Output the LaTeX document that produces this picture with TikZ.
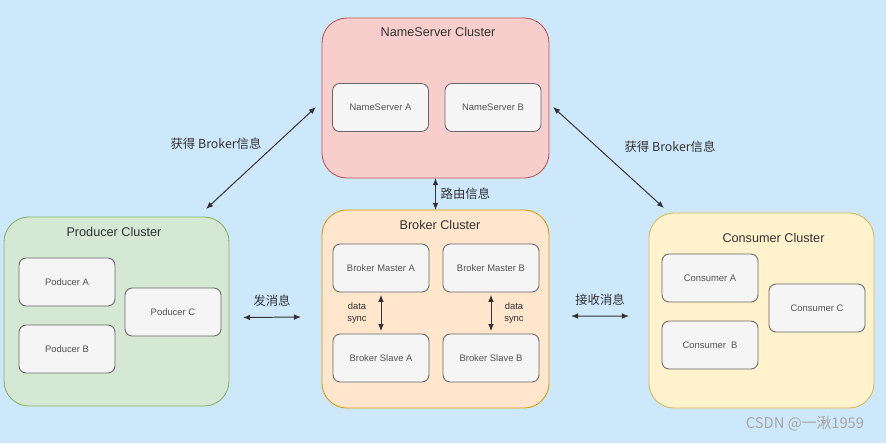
\documentclass[tikz,border=0pt]{standalone}
\usepackage{fontspec}
\setmainfont{Liberation Sans}
\newfontfamily\cjk{Noto Sans CJK SC}
\usetikzlibrary{positioning, arrows.meta}
\tikzset{>={Latex[length=5pt,width=4pt]}}
\usepackage{xcolor}

\definecolor{bgblue}{RGB}{206,232,251}
\definecolor{nsfill}{RGB}{248,206,204}\definecolor{nsline}{RGB}{184,84,80}
\definecolor{prfill}{RGB}{213,232,212}\definecolor{prline}{RGB}{130,179,102}
\definecolor{brfill}{RGB}{255,230,204}\definecolor{brline}{RGB}{215,155,0}
\definecolor{cofill}{RGB}{255,242,204}\definecolor{coline}{RGB}{214,182,86}
\definecolor{boxfill}{RGB}{245,245,245}\definecolor{boxline}{RGB}{102,102,102}
\definecolor{txt}{RGB}{51,51,51}

\tikzset{
    cluster/.style={draw,rounded corners=0.625cm,inner sep=0pt,outer sep=0pt,line width=0.6pt},
    member/.style={draw=boxline,fill=boxfill,rounded corners=0.18cm,minimum width=2.4cm,
        minimum height=1.2cm,inner sep=0pt,outer sep=0pt,line width=0.6pt,
        text=txt!85,font=\fontsize{6.7}{8}\selectfont},
    title/.style={text=txt,font=\fontsize{9}{11}\selectfont},
    link/.style={<->,draw=txt,line width=0.7pt},
    linklabel/.style={text=txt,font=\cjk\fontsize{8.8}{11}\selectfont}
}

\begin{document}
\begin{tikzpicture}[x=0.025cm,y=-0.025cm]

    % canvas
    \fill[bgblue] (0,0) rectangle (886,443);
    \useasboundingbox (0,0) rectangle (886,443);

    % clusters
    \node[cluster,draw=nsline,fill=nsfill,minimum width=5.675cm,minimum height=4cm] (ns) at (435.5,98) {};
    \node[cluster,draw=prline,fill=prfill,minimum width=5.625cm,minimum height=4.725cm] (prod) at (116.5,311.5) {};
    \node[cluster,draw=brline,fill=brfill,minimum width=5.675cm,minimum height=4.95cm] (brk) at (435.5,309) {};
    \node[cluster,draw=coline,fill=cofill,minimum width=5.625cm,minimum height=4.875cm] (cons) at (761.5,310.5) {};

    \node[title] (nstitle) at (438,32) {NameServer Cluster};
    \node[title] (prodtitle) at (114,232) {Producer Cluster};
    \node[title] (brktitle) at (440,225) {Broker Cluster};
    \node[title] (constitle) at (773.5,238) {Consumer Cluster};

    % members
    \node[member] (nsa) at (380.5,107.5) {NameServer A};
    \node[member] (nsb) at (493,107.5) {NameServer B};

    \node[member] (pa) at (67,282) {Poducer A};
    \node[member] (pb) at (67,349) {Poducer B};
    \node[member] (pc) at (173,312) {Poducer C};

    \node[member] (bma) at (381,268) {Broker Master A};
    \node[member] (bmb) at (491,268) {Broker Master B};
    \node[member] (bsa) at (381,358) {Broker Slave A};
    \node[member] (bsb) at (491,358) {Broker Slave B};

    \node[member] (ca) at (710,278) {Consumer A};
    \node[member] (cb) at (710,345) {Consumer~ B};
    \node[member] (cc) at (817,308) {Consumer C};

    % master/slave sync
    \draw[link,shorten <=2pt,shorten >=2pt] (bma) -- (bsa);
    \draw[link,shorten <=2pt,shorten >=2pt] (bmb) -- (bsb);
    \node[text=txt,font=\fontsize{6.7}{8}\selectfont,align=center] (synca) at (357,313) {data\\sync};
    \node[text=txt,font=\fontsize{6.7}{8}\selectfont,align=center] (syncb) at (514,313) {data\\sync};

    % links between clusters
    \draw[link] (ns) -- (brk) node[midway,right,linklabel] (route) {路由信息};
    \draw[link] ([shift={(14,6)}]prod.east) -- ([shift={(-21,8)}]brk.west)
        node[midway,above=4pt,linklabel] (send) {发消息};
    \draw[link] ([shift={(22,7)}]brk.east) -- ([shift={(-20,5.5)}]cons.west)
        node[midway,above=4pt,linklabel] (recv) {接收消息};
    \draw[link] ([shift={(-23,-8)}]prod.north east) -- ([shift={(-6,9)}]ns.west);
    \draw[link] ([shift={(4,9)}]ns.east) -- ([shift={(15,-5)}]cons.north west);
    \node[linklabel] (getl) at (216,144) {获得 Broker信息};
    \node[linklabel] (getr) at (670,147) {获得 Broker信息};

    % watermark
    \node[text=black!35,font=\cjk\fontsize{10.5}{12}\selectfont] (mark) at (805,424) {CSDN @一湫1959};

\end{tikzpicture}
\end{document}
